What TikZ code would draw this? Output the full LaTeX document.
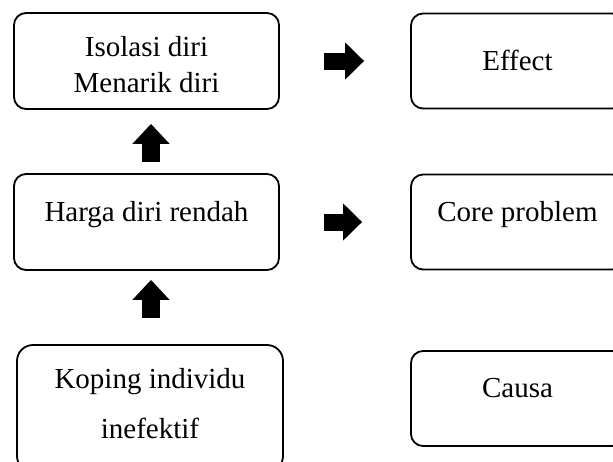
\documentclass[tikz,border=0pt]{standalone}
\usepackage{fontspec}
\setmainfont{Liberation Serif}
\usepackage{tikz}
\usetikzlibrary{arrows.meta,positioning}

\begin{document}
\begin{tikzpicture}[
   x=1pt,y=-1pt,
   every node/.style={font=\fontsize{29pt}{36pt}\selectfont},
   box/.style={draw,line width=1.8pt,rounded corners=12pt,align=center,
     text height=20pt,text depth=22pt},
   leftbox/.style={box,minimum width=265pt,minimum height=96pt},
   rightbox/.style={box,minimum width=213pt,minimum height=95pt},
   blockup/.style={line width=18pt,-{Triangle[length=20pt,width=36pt]}},
   blockright/.style={line width=17pt,-{Triangle[length=19pt,width=36pt]}}
 ]
  % Page frame; the right column and the last box run past it.
  \path[use as bounding box] (0,0) rectangle (613,461);
  \clip (0,0) rectangle (613,461);

  % Left column: the chain of problems.
  \node[leftbox,text height=76pt,text depth=12.6pt] (isolasi) at (146.5,61)
    {Isolasi diri\\[0pt]Menarik diri};
  \node[leftbox] (harga) at (146.5,222) {Harga diri rendah};
  \node[leftbox,minimum width=266pt,minimum height=127pt,
    rounded corners=16pt,text height=80pt,text depth=21pt] (koping) at (150,408.5)
    {Koping individu\\[14pt]inefektif};

  % Right column: what each row stands for.
  \node[rightbox,text depth=0.6pt] (effect) at (517.5,61) {Effect};
  \node[rightbox] (core) at (517.5,222) {Core problem};
  \node[rightbox] (causa) at (517.5,398.5) {Causa};

  % Block arrows in the gaps.
  \draw[blockup,shorten <=11pt,shorten >=14pt]
    ([xshift=4.5pt]harga.north) -- ([xshift=4.5pt]isolasi.south);
  \draw[blockup,shorten <=26pt,shorten >=9pt]
    ([xshift=4.5pt]harga.south |- koping.north) -- ([xshift=4.5pt]harga.south);
  \draw[blockright,shorten <=44pt,shorten >=46pt]
    (isolasi.east) -- (isolasi.east -| effect.west);
  \draw[blockright,shorten <=44pt,shorten >=48pt]
    (harga.east) -- (harga.east -| core.west);
\end{tikzpicture}
\end{document}
